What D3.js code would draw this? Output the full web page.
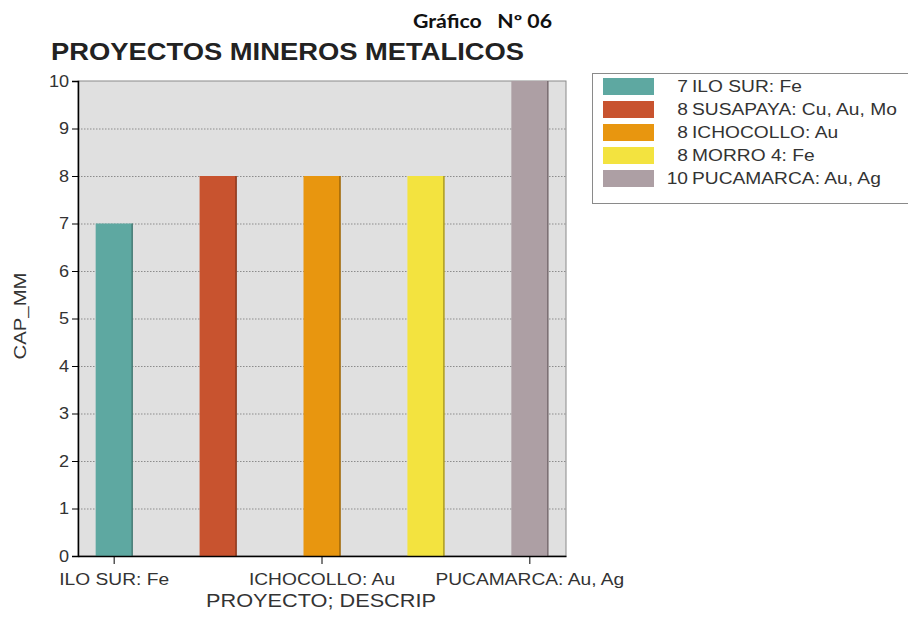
<!DOCTYPE html>
<html><head><meta charset="utf-8">
<script src="https://cdn.jsdelivr.net/npm/d3@7"></script>
<style>body{margin:0;background:#fff}svg{display:block}</style>
</head><body>
<svg id="c" width="908" height="617"></svg>
<script>
const projects = ["ILO SUR: Fe","SUSAPAYA: Cu, Au, Mo","ICHOCOLLO: Au","MORRO 4: Fe","PUCAMARCA: Au, Ag"];
const capValues = [7, 8, 8, 8, 10];
const colors = ["#5ea8a1","#c8532f","#e8960f","#f3e33f","#ad9fa4"];
const edgeColors = ["#3f6f6a","#7a3018","#8a5a08","#9a8a20","#6e6266"];
const yTicks = [0,1,2,3,4,5,6,7,8,9,10];
const xTickLabels = ["ILO SUR: Fe","ICHOCOLLO: Au","PUCAMARCA: Au, Ag"];

const svg = d3.select("#c");
const L = 78, R = 566, T = 81, B = 556;
const font = "'Liberation Sans', Arial, sans-serif";
const SX = 1.13;

const x = d3.scaleBand().domain(projects).range([L, R]).paddingInner(0.644).paddingOuter(0.17);
const y = d3.scaleLinear().domain([0, 10]).range([B, T]);

// titles
svg.append("text").attr("x", 413).attr("y", 28)
  .attr("font-family", "Lato, 'Open Sans', sans-serif").attr("font-weight", "bold").attr("font-size", 18)
  .attr("fill", "#111").attr("xml:space","preserve")
  .attr("textLength", 139).attr("lengthAdjust", "spacingAndGlyphs").text("Gráfico   Nº 06");
svg.append("text").attr("x", 51).attr("y", 59.5)
  .attr("font-family", font).attr("font-weight", "bold").attr("font-size", 24)
  .attr("fill", "#222").attr("textLength", 473).attr("lengthAdjust", "spacingAndGlyphs")
  .text("PROYECTOS MINEROS METALICOS");

// plot background
svg.append("rect").attr("x", L).attr("y", T).attr("width", R - L).attr("height", B - T)
  .attr("fill", "#e0e0e0").attr("stroke", "#8a8a8a").attr("stroke-width", 1);

// grid
svg.append("g").selectAll("line").data(yTicks.filter(d => d > 0 && d < 10)).join("line")
  .attr("x1", L).attr("x2", R).attr("y1", d => y(d) + 0.5).attr("y2", d => y(d) + 0.5)
  .attr("stroke", "#8c8c8c").attr("stroke-width", 1).attr("stroke-dasharray", "1.5,1.5");

// bars
const bars = svg.append("g");
bars.selectAll("rect.bar").data(projects).join("rect").attr("class", "bar")
  .attr("x", d => x(d)).attr("y", (d, i) => y(capValues[i]))
  .attr("width", x.bandwidth()).attr("height", (d, i) => B - y(capValues[i]))
  .attr("fill", (d, i) => colors[i]);
bars.selectAll("line.edge").data(projects).join("line").attr("class", "edge")
  .attr("x1", d => x(d) + x.bandwidth() - 0.5).attr("x2", d => x(d) + x.bandwidth() - 0.5)
  .attr("y1", (d, i) => y(capValues[i])).attr("y2", B)
  .attr("stroke", (d, i) => edgeColors[i]).attr("stroke-width", 1.2);

// y axis
const yAxis = svg.append("g").attr("transform", `translate(${L},0)`)
  .call(d3.axisLeft(y).tickValues(yTicks).tickSize(6).tickPadding(3).tickFormat(d3.format("d")));
yAxis.select(".domain").attr("stroke", "#000").attr("stroke-width", 1.5);
yAxis.selectAll(".tick line").attr("stroke", "#000");
yAxis.selectAll("text").attr("font-family", font).attr("font-size", 16).attr("fill", "#333")
  .attr("transform", `scale(${SX},1)`).attr("x", -9 / SX);

// x axis
const xAxis = svg.append("g").attr("transform", `translate(0,${B})`)
  .call(d3.axisBottom(x).tickValues(xTickLabels).tickSize(8).tickPadding(9).tickSizeOuter(0));
xAxis.select(".domain").attr("stroke", "#000").attr("stroke-width", 1.5);
xAxis.selectAll(".tick line").attr("stroke", "#000");
xAxis.selectAll("text").attr("font-family", font).attr("font-size", 17).attr("fill", "#333")
  .attr("transform", `scale(${SX},1)`);

// axis titles
svg.append("text").attr("x", 206).attr("y", 607)
  .attr("font-family", font).attr("font-size", 19).attr("fill", "#333")
  .attr("textLength", 230).attr("lengthAdjust", "spacingAndGlyphs").text("PROYECTO; DESCRIP");
svg.append("text").attr("transform", "translate(26,316) rotate(-90)").attr("text-anchor", "middle")
  .attr("font-family", font).attr("font-size", 17).attr("fill", "#333")
  .attr("textLength", 87).attr("lengthAdjust", "spacingAndGlyphs").text("CAP_MM");

// legend
const lg = svg.append("g");
lg.append("rect").attr("x", 592.5).attr("y", 73.5).attr("width", 330).attr("height", 130)
  .attr("fill", "#fff").attr("stroke", "#8a8a8a");
const rowY = i => 86 + i * 23;
lg.selectAll("rect.sw").data(projects).join("rect").attr("class", "sw")
  .attr("x", 603).attr("y", (d, i) => rowY(i) - 8).attr("width", 51).attr("height", 17)
  .attr("fill", (d, i) => colors[i]);
const rows = lg.selectAll("g.row").data(projects).join("g").attr("class", "row")
  .attr("transform", (d, i) => `translate(688,${rowY(i) + 6}) scale(${SX},1)`);
rows.append("text").attr("x", 0).attr("y", 0).attr("text-anchor", "end")
  .attr("font-family", font).attr("font-size", 17).attr("fill", "#333").text((d, i) => capValues[i]);
rows.append("text").attr("x", 4 / SX).attr("y", 0)
  .attr("font-family", font).attr("font-size", 17).attr("fill", "#333").text(d => d);
</script>
</body></html>
